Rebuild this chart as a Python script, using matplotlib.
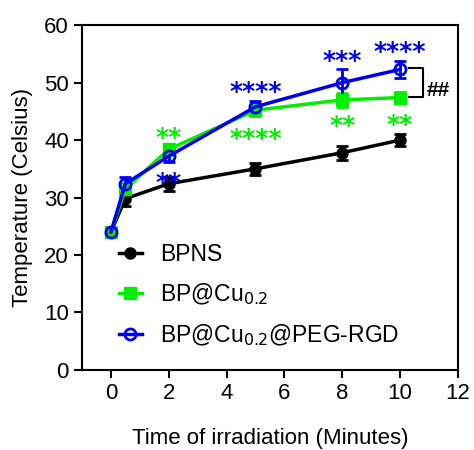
import numpy as np
import matplotlib.pyplot as plt

plt.rcParams['font.family'] = ['Liberation Sans', 'DejaVu Sans']

t = np.array([0, 0.5, 2, 5, 8, 10])
T_bpns = np.array([24.0, 29.8, 32.4, 35.0, 37.8, 40.0])
T_cu = np.array([24.0, 31.5, 38.4, 45.2, 47.0, 47.4])
T_rgd = np.array([24.0, 32.4, 37.2, 45.8, 50.0, 52.3])
err_bpns = np.array([0.6, 1.2, 1.2, 1.0, 1.2, 1.0])
err_cu = np.array([0.6, 1.0, 1.0, 1.0, 1.2, 1.0])
err_rgd = np.array([0.6, 1.2, 1.0, 1.0, 2.3, 1.5])

# significance marks (x, y, text)
stars_rgd = [(2, 32.6, "**"), (5, 48.4, "****"), (8, 53.8, "***"), (10, 55.4, "****")]
stars_cu = [(2, 40.4, "**"), (5, 40.2, "****"), (8, 42.4, "**"), (10, 42.6, "**")]

green = '#00ee00'
blue = '#0000ee'

fig, ax = plt.subplots(figsize=(4.74, 4.5), dpi=100)
c1 = ax.errorbar(t, T_bpns, err_bpns, color='black', marker='o', markersize=8, lw=2.5,
                 elinewidth=2, capsize=4, capthick=2)
c2 = ax.errorbar(t, T_cu, err_cu, color=green, marker='s', markersize=9, lw=2.5,
                 elinewidth=2, capsize=4, capthick=2)
c3 = ax.errorbar(t, T_rgd, err_rgd, color=blue, marker='o', markersize=8, mfc='none', mew=2,
                 lw=2.5, elinewidth=2, capsize=4, capthick=2)

for x, y, s in stars_rgd:
    ax.text(x, y, s, color=blue, ha='center', va='center', fontsize=18,
            family='DejaVu Sans', fontweight='bold')
for x, y, s in stars_cu:
    ax.text(x, y, s, color=green, ha='center', va='center', fontsize=18,
            family='DejaVu Sans', fontweight='bold')

# bracket between last points
ax.plot([10.3, 10.8, 10.8, 10.3], [52.6, 52.6, 47.5, 47.5], color='black', lw=1.5)
ax.text(10.93, 48.6, '##', fontsize=15, va='center', ha='left', fontweight='bold')

ax.set_xlim(-1, 12)
ax.set_ylim(0, 60)
ax.set_xticks(range(0, 13, 2))
ax.set_yticks(range(0, 61, 10))
for s in ax.spines.values():
    s.set_linewidth(1.5)
ax.tick_params(width=1.5, length=6, labelsize=16)
ax.set_xlabel('Time of irradiation (Minutes)', fontsize=16, labelpad=17)
ax.set_ylabel('Temperature (Celsius)', fontsize=16, labelpad=8)
ax.legend([c1[0], c2[0], c3[0]], ['BPNS', 'BP@Cu$_{0.2}$', 'BP@Cu$_{0.2}$@PEG-RGD'],
          loc='upper left', bbox_to_anchor=(0.074, 0.394), frameon=False, fontsize=16.5,
          handlelength=1.0, handletextpad=0.8, labelspacing=0.65, borderaxespad=0)

fig.subplots_adjust(left=0.173, right=0.966, top=0.944, bottom=0.178)
fig.savefig('out.png', dpi=100)
